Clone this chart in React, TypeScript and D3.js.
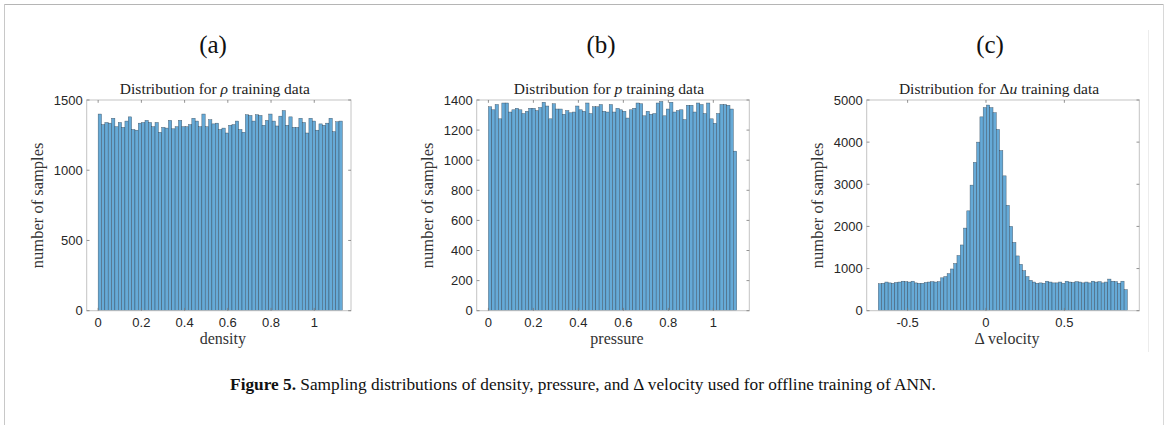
import React from "react";
import * as d3 from "d3";

// ---------- DATA ----------
const densityCounts = [1400, 1325, 1340, 1335, 1370, 1310, 1340, 1305, 1350, 1380, 1290, 1285, 1335, 1340, 1355, 1340, 1310, 1340, 1270, 1305, 1300, 1355, 1295, 1310, 1355, 1310, 1310, 1325, 1370, 1350, 1310, 1400, 1310, 1360, 1330, 1335, 1290, 1300, 1265, 1320, 1325, 1350, 1290, 1270, 1395, 1390, 1350, 1395, 1390, 1320, 1355, 1400, 1350, 1315, 1385, 1425, 1320, 1380, 1305, 1305, 1370, 1340, 1265, 1370, 1350, 1285, 1330, 1320, 1335, 1370, 1275, 1345, 1350];
const densityRange = [0, 1.13];

const pressureCounts = [1355, 1335, 1370, 1275, 1380, 1380, 1320, 1335, 1345, 1335, 1310, 1325, 1345, 1345, 1330, 1350, 1385, 1360, 1275, 1375, 1340, 1340, 1305, 1330, 1315, 1320, 1360, 1335, 1325, 1380, 1310, 1355, 1355, 1370, 1325, 1320, 1370, 1320, 1345, 1335, 1325, 1280, 1335, 1345, 1380, 1375, 1295, 1325, 1305, 1310, 1380, 1390, 1295, 1340, 1385, 1320, 1330, 1335, 1270, 1365, 1365, 1320, 1380, 1370, 1310, 1380, 1275, 1245, 1310, 1370, 1370, 1365, 1340, 1060];
const pressureRange = [0, 1.104];

const velocityCounts = [640, 650, 680, 660, 650, 670, 680, 700, 690, 680, 700, 660, 650, 650, 670, 680, 690, 680, 690,
  780, 810, 880, 990, 1120, 1310, 1560, 1960, 2370, 2980, 3520, 4000, 4600, 4820,
  4880,
  4820, 4700, 4300, 3800, 3200, 2500, 2000, 1620, 1300, 1100, 950, 810, 720, 680,
  650, 660, 650, 700, 680, 660, 660, 680, 650, 700, 680, 670, 690, 680, 660, 680, 660, 700, 680, 690, 660, 680, 750, 700, 690, 650, 700, 500];
const velocityRange = [-0.687, 0.902];

const densityXTicks = [0, 0.2, 0.4, 0.6, 0.8, 1];
const densityYTicks = [0, 500, 1000, 1500];
const pressureXTicks = [0, 0.2, 0.4, 0.6, 0.8, 1];
const pressureYTicks = [0, 200, 400, 600, 800, 1000, 1200, 1400];
const velocityXTicks = [-0.5, 0, 0.5];
const velocityYTicks = [0, 1000, 2000, 3000, 4000, 5000];

// ---------- STYLE ----------
const SERIF = "'Liberation Serif', 'Times New Roman', serif";
const SANS = "'Liberation Sans', Arial, Helvetica, sans-serif";
const BAR_FILL = "#66aad7";
const BAR_STROKE = "#2a3a48";

type PanelProps = {
  letter: string;
  letterX: number;
  title: React.ReactNode;
  xLabel: React.ReactNode;
  counts: number[];
  range: number[];
  xDomain: [number, number];
  yMax: number;
  xTicks: number[];
  yTicks: number[];
  left: number;
  right: number;
};

const TOP = 100;
const BOTTOM = 310.7;

function fmt(v: number) {
  if (v === 0) return "0";
  return String(v);
}

function Panel(p: PanelProps) {
  const x = d3.scaleLinear().domain(p.xDomain).range([p.left, p.right]);
  const y = d3.scaleLinear().domain([0, p.yMax]).range([BOTTOM, TOP]);
  const n = p.counts.length;
  const bw = (p.range[1] - p.range[0]) / n;
  const cx = (p.left + p.right) / 2;
  const tl = 2.8;
  return (
    <g>
      <text x={p.letterX} y={53} textAnchor="middle" fontFamily={SERIF} fontSize={25} fill="#111">
        {p.letter}
      </text>
      <text x={cx - 4} y={94} textAnchor="middle" fontFamily={SERIF} fontSize={15.5} fill="#222">
        {p.title}
      </text>
      {p.counts.map((c, i) => {
        const x0 = x(p.range[0] + i * bw);
        const x1 = x(p.range[0] + (i + 1) * bw);
        return (
          <rect key={i} x={x0} y={y(c)} width={x1 - x0} height={BOTTOM - y(c)}
            fill={BAR_FILL} stroke={BAR_STROKE} strokeWidth={0.45} strokeOpacity={0.8} />
        );
      })}
      <rect x={p.left} y={TOP} width={p.right - p.left} height={BOTTOM - TOP}
        fill="none" stroke="#c4c4c4" strokeWidth={1} />
      {p.xTicks.map((t) => (
        <g key={"xt" + t}>
          <line x1={x(t)} x2={x(t)} y1={BOTTOM} y2={BOTTOM - tl} stroke="#777" strokeWidth={0.8} />
          <line x1={x(t)} x2={x(t)} y1={TOP} y2={TOP + tl} stroke="#777" strokeWidth={0.8} />
          <text x={x(t)} y={BOTTOM + 16} textAnchor="middle" fontFamily={SANS} fontSize={13} fill="#262626">
            {fmt(t)}
          </text>
        </g>
      ))}
      {p.yTicks.map((t) => (
        <g key={"yt" + t}>
          <line x1={p.left} x2={p.left + tl} y1={y(t)} y2={y(t)} stroke="#777" strokeWidth={0.8} />
          <line x1={p.right} x2={p.right - tl} y1={y(t)} y2={y(t)} stroke="#777" strokeWidth={0.8} />
          <text x={p.left - 4} y={y(t) + 4.5} textAnchor="end" fontFamily={SANS} fontSize={13} fill="#262626">
            {fmt(t)}
          </text>
        </g>
      ))}
      <text x={cx + 4} y={BOTTOM + 33} textAnchor="middle" fontFamily={SERIF} fontSize={16} fill="#333">
        {p.xLabel}
      </text>
      <text transform={`translate(${p.left - 44},${(TOP + BOTTOM) / 2}) rotate(-90)`} textAnchor="middle"
        fontFamily={SERIF} fontSize={16.5} fill="#333">
        number of samples
      </text>
    </g>
  );
}

export default function App() {
  return (
    <svg width={1167} height={425} style={{ position: "absolute", left: 0, top: 0, background: "#fff" }}>
      <rect x={0} y={0} width={1167} height={425} fill="#fff" />
      {/* page frame */}
      <line x1={4} x2={1163} y1={4.5} y2={4.5} stroke="#b5b5b5" strokeWidth={1} />
      <line x1={4.5} x2={4.5} y1={4} y2={425} stroke="#c8c8c8" strokeWidth={1} />
      <line x1={1163.5} x2={1163.5} y1={4} y2={425} stroke="#d8d8d8" strokeWidth={1} />
      <line x1={1148.5} x2={1148.5} y1={30} y2={352} stroke="#ececec" strokeWidth={1} />

      <Panel letter="(a)" letterX={213}
        title={<>Distribution for <tspan fontStyle="italic">ρ</tspan> training data</>}
        xLabel="density" counts={densityCounts} range={densityRange}
        xDomain={[-0.053, 1.17]} yMax={1500} xTicks={densityXTicks} yTicks={densityYTicks}
        left={86.7} right={351} />
      <Panel letter="(b)" letterX={601}
        title={<>Distribution for <tspan fontStyle="italic">p</tspan> training data</>}
        xLabel="pressure" counts={pressureCounts} range={pressureRange}
        xDomain={[-0.052, 1.16]} yMax={1400} xTicks={pressureXTicks} yTicks={pressureYTicks}
        left={476.7} right={749.3} />
      <Panel letter="(c)" letterX={990}
        title={<>Distribution for Δ<tspan fontStyle="italic">u</tspan> training data</>}
        xLabel="Δ velocity" counts={velocityCounts} range={velocityRange}
        xDomain={[-0.761, 0.978]} yMax={5000} xTicks={velocityXTicks} yTicks={velocityYTicks}
        left={866.7} right={1139.3} />

      <text x={583} y={390} textAnchor="middle" fontFamily={SERIF} fontSize={17.3} fill="#111">
        <tspan fontWeight="bold">Figure 5.</tspan> Sampling distributions of density, pressure, and Δ velocity used for offline training of ANN.
      </text>
    </svg>
  );
}
